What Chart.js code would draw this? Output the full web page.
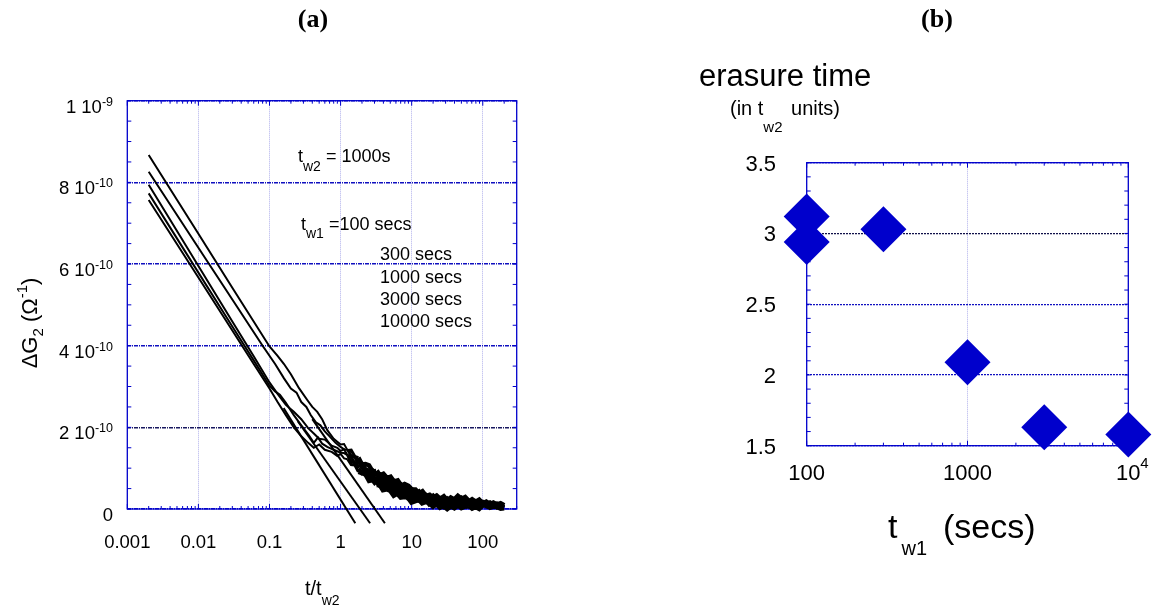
<!DOCTYPE html>
<html>
<head>
<meta charset="utf-8">
<script src="https://cdn.jsdelivr.net/npm/chart.js@4.4.1/dist/chart.umd.min.js"></script>
<style>
  body { margin: 0; background: #fff; width: 1153px; height: 608px; overflow: hidden; position: relative; }
  .panel { position: absolute; top: 0; height: 608px; }
  #boxA { left: 0; width: 560px; }
  #boxB { left: 560px; width: 593px; }
</style>
</head>
<body>
<div class="panel" id="boxA"><canvas id="chartA"></canvas></div>
<div class="panel" id="boxB"><canvas id="chartB"></canvas></div>
<script>
// ---- panel (a): dG2 (units of 1e-10 ohm^-1) against t/tw2 ----
var tw1Labels = ["100 secs", "300 secs", "1000 secs", "3000 secs", "10000 secs"];

var headX100 = [0.002, 0.01, 0.03, 0.1, 0.13, 0.16, 0.2, 0.26, 0.34, 0.4, 0.47, 0.55, 0.65, 0.8, 1.0];
var headY100 = [8.67, 6.74, 5.42, 3.98, 3.75, 3.55, 3.3, 2.96, 2.67, 2.5, 2.38, 2.2, 1.93, 1.72, 1.58];
var headX300 = [0.002, 0.01, 0.03, 0.08, 0.12, 0.16, 0.2, 0.24, 0.28, 0.33, 0.38, 0.45, 0.52, 0.6, 0.7, 0.85, 1.0];
var headY300 = [8.26, 6.40, 5.13, 4.0, 3.55, 3.2, 2.95, 2.85, 2.62, 2.5, 2.3, 2.12, 2.05, 1.9, 1.78, 1.62, 1.52];
var headX1000 = [0.002, 0.01, 0.03, 0.06, 0.1, 0.13, 0.17, 0.22, 0.28, 0.35, 0.42, 0.5, 0.6, 0.75, 0.9, 1.0];
var headY1000 = [7.94, 5.95, 4.59, 3.74, 3.1, 2.82, 2.55, 2.38, 2.2, 1.98, 1.85, 1.72, 1.7, 1.55, 1.5, 1.42];
var headX3000 = [0.002, 0.01, 0.03, 0.06, 0.1, 0.12, 0.14, 0.17, 0.22, 0.28, 0.36, 0.42, 0.48, 0.55, 0.65, 0.8, 1.0];
var headY3000 = [7.73, 5.79, 4.47, 3.64, 3.02, 2.88, 2.8, 2.6, 2.3, 2.05, 1.8, 1.62, 1.75, 1.6, 1.52, 1.45, 1.38];
var headX10000 = [0.002, 0.01, 0.03, 0.06, 0.1, 0.13, 0.17, 0.22, 0.28, 0.35, 0.42, 0.5, 0.6, 0.75, 0.9, 1.0];
var headY10000 = [7.57, 5.67, 4.37, 3.55, 2.95, 2.62, 2.3, 2.0, 1.78, 1.62, 1.5, 1.58, 1.45, 1.4, 1.3, 1.35];

// noisy long-time tail, shared time points
var tailX = [1.12, 1.26, 1.41, 1.58, 1.78, 2, 2.24, 2.51, 2.82, 3.16,
             3.55, 3.98, 4.47, 5.01, 5.62, 6.31, 7.08, 7.94, 8.91, 10,
             11.2, 12.6, 14.1, 15.8, 17.8, 20, 22.4, 25.1, 28.2, 31.6,
             35.5, 39.8, 44.7, 50.1, 56.2, 63.1, 70.8, 79.4, 89.1, 100,
             112, 126, 141, 158, 178, 200];
var tailY100 = [1.59, 1.43, 1.44, 1.29, 1.26, 1.09, 1.10, 1.07, 0.92, 0.93,
                0.80, 0.84, 0.74, 0.77, 0.65, 0.68, 0.55, 0.59, 0.55, 0.46,
                0.46, 0.36, 0.41, 0.30, 0.33, 0.26, 0.31, 0.23, 0.29, 0.19,
                0.26, 0.21, 0.30, 0.23, 0.27, 0.18, 0.24, 0.18, 0.23, 0.14,
                0.18, 0.12, 0.16, 0.11, 0.14, 0.09];
var tailY300 = [1.46, 1.45, 1.30, 1.28, 1.10, 1.10, 0.97, 0.93, 0.94, 0.80,
                0.82, 0.68, 0.72, 0.63, 0.66, 0.53, 0.55, 0.46, 0.50, 0.46,
                0.34, 0.40, 0.29, 0.32, 0.23, 0.30, 0.21, 0.24, 0.16, 0.23,
                0.16, 0.22, 0.19, 0.25, 0.18, 0.21, 0.14, 0.19, 0.14, 0.17,
                0.12, 0.16, 0.10, 0.13, 0.08, 0.10];
var tailY1000 = [1.46, 1.31, 1.28, 1.12, 1.10, 1.04, 0.91, 0.93, 0.80, 0.72,
                 0.74, 0.71, 0.58, 0.60, 0.49, 0.53, 0.50, 0.40, 0.35, 0.41,
                 0.35, 0.26, 0.30, 0.22, 0.27, 0.18, 0.21, 0.12, 0.17, 0.11,
                 0.18, 0.13, 0.20, 0.12, 0.17, 0.10, 0.15, 0.09, 0.13, 0.09,
                 0.13, 0.08, 0.11, 0.06, 0.09, 0.05];
var tailY3000 = [1.37, 1.31, 1.15, 1.14, 0.99, 0.88, 0.91, 0.83, 0.72, 0.74,
                 0.60, 0.61, 0.60, 0.48, 0.51, 0.41, 0.35, 0.40, 0.29, 0.31,
                 0.33, 0.23, 0.25, 0.26, 0.14, 0.19, 0.12, 0.16, 0.08, 0.15,
                 0.08, 0.15, 0.10, 0.14, 0.15, 0.06, 0.10, 0.10, 0.05, 0.12,
                 0.07, 0.10, 0.09, 0.04, 0.06, 0.04];
var tailY10000 = [1.24, 1.22, 1.09, 1.08, 0.91, 0.88, 0.84, 0.69, 0.71, 0.60,
                  0.62, 0.48, 0.50, 0.47, 0.35, 0.40, 0.30, 0.31, 0.30, 0.18,
                  0.21, 0.25, 0.16, 0.19, 0.17, 0.08, 0.14, 0.05, 0.09, 0.02,
                  0.09, 0.04, 0.11, 0.04, 0.08, 0.08, 0.01, 0.05, 0.00, 0.09,
                  0.08, 0.03, 0.06, 0.05, 0.01, 0.02];

// straight-line fits to the short-time decay
var fitXA = [0.158, 1.61], fitYA = [2.47, -0.35];
var fitXB = [0.25, 2.6],   fitYB = [2.15, -0.35];
var fitXC = [0.4, 4.2],    fitYC = [2.2, -0.35];

var xTicksA = [0.001, 0.01, 0.1, 1, 10, 100];
var xLabelsA = ["0.001", "0.01", "0.1", "1", "10", "100"];
var yTicksA = [0, 2, 4, 6, 8, 10];
var yLabelsA = ["0", "2 10", "4 10", "6 10", "8 10", "1 10"];
var yExpsA = ["", "-10", "-10", "-10", "-10", "-9"];

// ---- panel (b): erasure time vs tw1 ----
var tw1Secs = [100, 100, 300, 1000, 3000, 10000];
var erasureTime = [3.12, 2.94, 3.03, 2.09, 1.63, 1.58];
var xTicksB = [100, 1000, 10000];
var yTicksB = [1.5, 2, 2.5, 3, 3.5];
var yLabelsB = ["1.5", "2", "2.5", "3", "3.5"];

var FONT = '"Liberation Sans", Arial, sans-serif';
var SERIF = '"Liberation Serif", "Times New Roman", serif';
var BLUE = "#0000cc";

function pts(xs, ys) {
  return xs.map(function (x, i) { return { x: x, y: ys[i] }; });
}

function curve(hx, hy, ty, label) {
  return {
    label: label,
    data: pts(hx, hy).concat(pts(tailX, ty)),
    showLine: true, borderColor: "#000", borderWidth: 2,
    pointRadius: 0, clip: false,
    // the noisy tail reads as a thick band in the original
    segment: {
      borderWidth: function (c) {
        var x = c.p0.parsed.x;
        if (x >= 60) return 4.5;
        return x >= 3 ? 6 : x >= 1.6 ? 4.5 : x >= 1.2 ? 3 : undefined;
      }
    }
  };
}

function fitLine(fx, fy) {
  return { data: pts(fx, fy), showLine: true, borderColor: "#000", borderWidth: 2, pointRadius: 0, clip: false };
}

// draw text made of pieces (sub/superscripts)
function rich(ctx, parts, x, y, align) {
  var w = 0;
  parts.forEach(function (p) {
    ctx.font = (p.bold ? "bold " : "") + p.size + "px " + (p.face || FONT);
    p.w = ctx.measureText(p.t).width;
    w += (p.dx || 0) + p.w;
  });
  var cx = align === "right" ? x - w : align === "center" ? x - w / 2 : x;
  parts.forEach(function (p) {
    ctx.font = (p.bold ? "bold " : "") + p.size + "px " + (p.face || FONT);
    cx += p.dx || 0;
    ctx.fillText(p.t, cx, y + (p.dy || 0));
    cx += p.w;
  });
}

function frame(chart, yStep) {
  var a = chart.chartArea, ctx = chart.ctx, xs = chart.scales.x, ys = chart.scales.y;
  ctx.save();
  ctx.strokeStyle = BLUE;
  ctx.lineWidth = 1.3;
  ctx.strokeRect(a.left, a.top, a.right - a.left, a.bottom - a.top);
  ctx.lineWidth = 1;
  ctx.beginPath();
  var n = Math.round((ys.max - ys.min) / yStep);
  for (var i = 0; i <= n; i++) {
    var py = ys.getPixelForValue(ys.min + i * yStep);
    ctx.moveTo(a.left, py); ctx.lineTo(a.left + 4, py);
    ctx.moveTo(a.right, py); ctx.lineTo(a.right - 4, py);
  }
  var d0 = Math.floor(Math.log10(xs.min)), d1 = Math.ceil(Math.log10(xs.max));
  for (var d = d0; d <= d1; d++) {
    for (var m = 1; m <= 9; m++) {
      var v = m * Math.pow(10, d);
      if (v < xs.min * 0.999 || v > xs.max * 1.001) continue;
      var px = xs.getPixelForValue(v);
      var len = m === 1 ? 5 : 3;
      ctx.moveTo(px, a.top); ctx.lineTo(px, a.top + len);
      ctx.moveTo(px, a.bottom); ctx.lineTo(px, a.bottom - len);
    }
  }
  ctx.stroke();
  ctx.restore();
}

var textA = {
  id: "textA",
  beforeDatasetsDraw: function (chart) { frame(chart, 0.5); },
  afterDraw: function (chart) {
    var ctx = chart.ctx, a = chart.chartArea, xs = chart.scales.x, ys = chart.scales.y;
    ctx.save();
    ctx.fillStyle = "#000";
    ctx.textBaseline = "alphabetic";
    ctx.textAlign = "left";
    rich(ctx, [{ t: "(a)", size: 26, bold: true, face: SERIF }], 313, 27, "center");
    yTicksA.forEach(function (v, i) {
      var parts = [{ t: yLabelsA[i], size: 18.5 }];
      if (yExpsA[i]) parts.push({ t: yExpsA[i], size: 12.5, dy: -7 });
      rich(ctx, parts, 113, ys.getPixelForValue(v) + 12, "right");
    });
    xTicksA.forEach(function (v, i) {
      rich(ctx, [{ t: xLabelsA[i], size: 18.5 }], xs.getPixelForValue(v), a.bottom + 39, "center");
    });
    rich(ctx, [{ t: "t/t", size: 20 }, { t: "w2", size: 14, dy: 10 }], 305, 595, "left");
    ctx.save();
    ctx.translate(37, 323);
    ctx.rotate(-Math.PI / 2);
    rich(ctx, [{ t: "\u0394G", size: 22 }, { t: "2", size: 15, dy: 6 }, { t: " (\u03a9", size: 22 },
               { t: "-1", size: 15, dy: -10 }, { t: ")", size: 22 }], 0, 0, "center");
    ctx.restore();
    rich(ctx, [{ t: "t", size: 18 }, { t: "w2", size: 14, dy: 9 }, { t: " = 1000s", size: 18 }], 298, 162, "left");
    rich(ctx, [{ t: "t", size: 18 }, { t: "w1", size: 14, dy: 8 }, { t: " =" + tw1Labels[0], size: 18 }], 301, 230, "left");
    var rows = [260, 282.5, 305, 327];
    for (var k = 1; k < tw1Labels.length; k++) {
      rich(ctx, [{ t: tw1Labels[k], size: 18 }], 380, rows[k - 1], "left");
    }
    ctx.restore();
  }
};

var textB = {
  id: "textB",
  beforeDatasetsDraw: function (chart) { frame(chart, 0.1); },
  afterDraw: function (chart) {
    var ctx = chart.ctx, a = chart.chartArea, xs = chart.scales.x, ys = chart.scales.y;
    ctx.save();
    ctx.fillStyle = "#000";
    ctx.textBaseline = "alphabetic";
    ctx.textAlign = "left";
    rich(ctx, [{ t: "(b)", size: 26, bold: true, face: SERIF }], 377, 27, "center");
    rich(ctx, [{ t: "erasure time", size: 31 }], 139, 86, "left");
    rich(ctx, [{ t: "(in t", size: 20 }, { t: "w2", size: 15, dy: 17 }, { t: " units)", size: 20, dx: 3 }], 170, 115, "left");
    yTicksB.forEach(function (v, i) {
      rich(ctx, [{ t: yLabelsB[i], size: 22 }], 216, ys.getPixelForValue(v) + 8, "right");
    });
    rich(ctx, [{ t: "100", size: 22 }], xs.getPixelForValue(xTicksB[0]), a.bottom + 34, "center");
    rich(ctx, [{ t: "1000", size: 22 }], xs.getPixelForValue(xTicksB[1]), a.bottom + 34, "center");
    rich(ctx, [{ t: "10", size: 22 }, { t: "4", size: 15, dy: -12 }], xs.getPixelForValue(xTicksB[2]) + 4, a.bottom + 34, "center");
    rich(ctx, [{ t: "t", size: 34 }, { t: "w1", size: 20, dy: 17, dx: 4 }, { t: "(secs)", size: 34, dx: 16 }], 328, 538, "left");
    ctx.restore();
  }
};

function fixTicks(values) {
  return function (scale) { scale.ticks = values.map(function (v) { return { value: v }; }); };
}

var chartA = new Chart(document.getElementById("chartA"), {
  type: "scatter",
  data: {
    datasets: [
      curve(headX100, headY100, tailY100, tw1Labels[0]),
      curve(headX300, headY300, tailY300, tw1Labels[1]),
      curve(headX1000, headY1000, tailY1000, tw1Labels[2]),
      curve(headX3000, headY3000, tailY3000, tw1Labels[3]),
      curve(headX10000, headY10000, tailY10000, tw1Labels[4]),
      fitLine(fitXA, fitYA),
      fitLine(fitXB, fitYB),
      fitLine(fitXC, fitYC)
    ]
  },
  options: {
    responsive: true,
    maintainAspectRatio: false,
    animation: false,
    events: [],
    layout: { padding: { left: 0, top: 100.7, right: 43.3, bottom: 0 } },
    plugins: { legend: { display: false }, tooltip: { enabled: false } },
    scales: {
      x: {
        type: "logarithmic", min: 0.001, max: 300,
        afterBuildTicks: fixTicks(xTicksA),
        afterFit: function (s) { s.height = 99; },
        ticks: { display: false },
        grid: { color: "#b0b0ec", lineWidth: 1, drawTicks: false },
        border: { display: false, dash: [1, 1] }
      },
      y: {
        type: "linear", min: 0, max: 10,
        afterBuildTicks: fixTicks(yTicksA),
        afterFit: function (s) { s.width = 127.3; },
        ticks: { display: false },
        grid: {
          color: function (c) { return c.tick && c.tick.value === 2 ? "#181860" : "#1010c0"; },
          lineWidth: 1.4, drawTicks: false
        },
        border: { display: false, dash: [4, 1, 1, 1] }
      }
    }
  },
  plugins: [textA]
});

var chartB = new Chart(document.getElementById("chartB"), {
  type: "scatter",
  data: {
    datasets: [{
      data: pts(tw1Secs, erasureTime),
      pointStyle: "rectRot", pointRadius: 23,
      backgroundColor: BLUE, borderColor: BLUE, borderWidth: 0,
      clip: false
    }]
  },
  options: {
    responsive: true,
    maintainAspectRatio: false,
    animation: false,
    events: [],
    layout: { padding: { left: 0, top: 162.7, right: 24.7, bottom: 0 } },
    plugins: { legend: { display: false }, tooltip: { enabled: false } },
    scales: {
      x: {
        type: "logarithmic", min: 100, max: 10000,
        afterBuildTicks: fixTicks(xTicksB),
        afterFit: function (s) { s.height = 162.3; },
        ticks: { display: false },
        grid: { color: "#b0b0ec", lineWidth: 1, drawTicks: false },
        border: { display: false, dash: [1, 1] }
      },
      y: {
        type: "linear", min: 1.5, max: 3.5,
        afterBuildTicks: fixTicks(yTicksB),
        afterFit: function (s) { s.width = 246.7; },
        ticks: { display: false },
        grid: {
          color: function (c) { return c.tick && c.tick.value === 3 ? "#10104a" : "#1010c0"; },
          lineWidth: 1.3, drawTicks: false
        },
        border: { display: false, dash: [2, 1] }
      }
    }
  },
  plugins: [textB]
});
</script>
</body>
</html>
